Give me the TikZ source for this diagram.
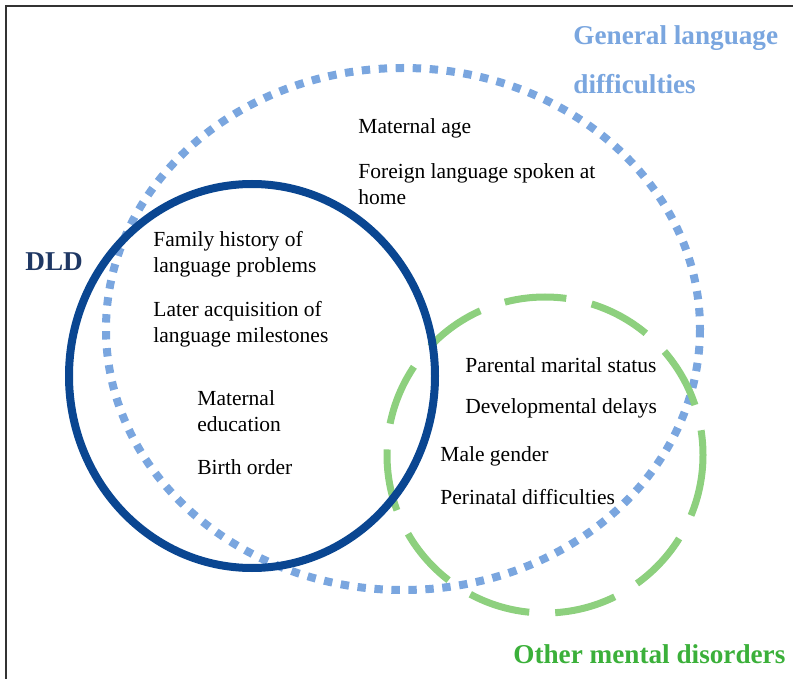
\documentclass[tikz,border=0pt]{standalone}
\usepackage{fontspec}
\setmainfont{Liberation Serif}
\usepackage{xcolor}
\definecolor{general-color}{RGB}{122,166,223}
\definecolor{dld-color}{RGB}{10,70,145}
\definecolor{dld-text}{RGB}{31,56,100}
\definecolor{other-color}{RGB}{141,208,126}
\definecolor{other-text}{RGB}{59,176,58}

\tikzset{
    factor/.style={anchor=west, align=left, inner sep=0pt, font=\fontsize{10.75}{13}\selectfont},
    setlabel/.style={anchor=west, align=left, inner sep=0pt, font=\fontsize{13.6}{24.5}\selectfont\bfseries}
}

\begin{document}
\begin{tikzpicture}[x=0.5pt, y=-0.5pt]
    \useasboundingbox (0,0) rectangle (793,679);
    
    % Frame (cut at right and bottom)
    \draw[black!80, line width=1pt] (6,679) -- (6,6) -- (793,6);
    
    % General language difficulties (dotted)
    \draw[general-color, line width=4pt, dash pattern=on 4.2pt off 4.3pt] (403,329) ellipse [x radius=297, y radius=261];
    
    % Other mental disorders (dashed)
    \draw[other-color, line width=3.5pt, dash pattern=on 31pt off 13pt] (545,455) circle [radius=158];
    
    % DLD (solid)
    \draw[dld-color, line width=4pt] (252,376) ellipse [x radius=183, y radius=192];
    
    % Set labels
    \node[setlabel, general-color] (general) at (573,60) {General language\\difficulties};
    \node[setlabel, dld-text, font=\fontsize{13.6}{15}\selectfont\bfseries] (dld) at (25,262) {DLD};
    \node[setlabel, other-text] (other) at (513,654) {Other mental disorders};
    
    % Language difficulties only
    \node[factor] (matage) at (358,128) {Maternal age};
    \node[factor] (foreign) at (358,184) {Foreign language spoken at\\home};
    
    % DLD
    \node[factor] (family) at (153,254.5) {Family history of\\language problems};
    \node[factor] (milestones) at (153,324) {Later acquisition of\\language milestones};
    \node[factor] (matedu) at (197,411.5) {Maternal\\education};
    \node[factor] (birth) at (197,467) {Birth order};
    
    % Other mental disorders
    \node[factor] (marital) at (465,365) {Parental marital status};
    \node[factor] (delays) at (465,408) {Developmental delays};
    \node[factor] (male) at (440,456) {Male gender};
    \node[factor] (perinatal) at (440,497) {Perinatal difficulties};
\end{tikzpicture}
\end{document}
